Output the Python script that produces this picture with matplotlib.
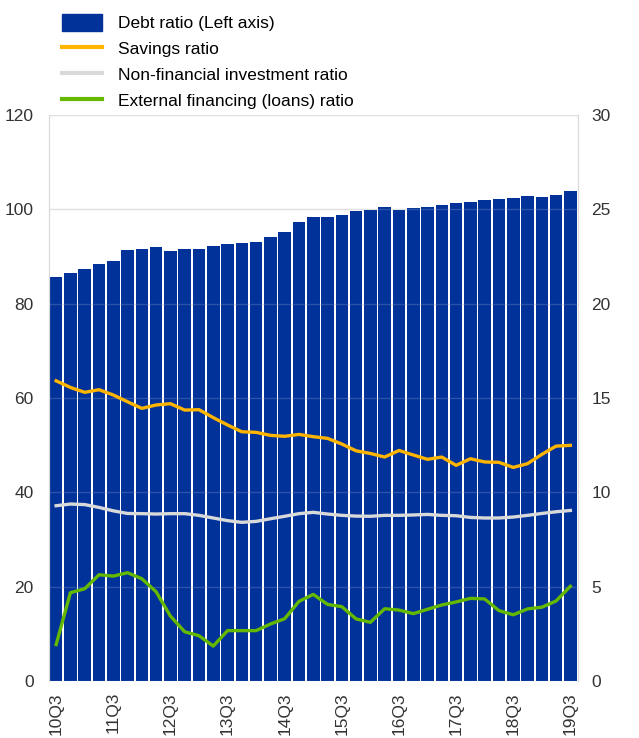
import matplotlib.pyplot as plt
import numpy as np
from matplotlib.patches import Patch
from matplotlib.lines import Line2D

plt.rcParams['font.family'] = ['Liberation Sans', 'DejaVu Sans']

# quarters 10Q3 .. 19Q3
quarters = []
for y in range(10, 20):
    for q in range(1, 5):
        if (y == 10 and q < 3) or (y == 19 and q > 3):
            continue
        quarters.append('%02dQ%d' % (y, q))

debt_ratio = [85.6, 86.6, 87.3, 88.5, 89.1, 91.4, 91.6, 92.0, 91.1, 91.5,
              91.5, 92.3, 92.6, 92.8, 93.1, 94.2, 95.2, 97.3, 98.3, 98.3,
              98.9, 99.6, 99.8, 100.4, 99.9, 100.3, 100.6, 101.0, 101.4, 101.6,
              101.9, 102.2, 102.5, 102.9, 102.7, 103.0, 103.9]
savings = [15.91, 15.56, 15.30, 15.44, 15.16, 14.80, 14.45, 14.63, 14.70, 14.36,
           14.38, 13.96, 13.57, 13.21, 13.18, 13.02, 12.97, 13.07, 12.95, 12.86,
           12.56, 12.20, 12.06, 11.87, 12.22, 11.98, 11.75, 11.87, 11.43, 11.78,
           11.61, 11.59, 11.32, 11.52, 12.01, 12.45, 12.49]
nonfin_inv = [9.29, 9.38, 9.35, 9.20, 9.02, 8.88, 8.87, 8.85, 8.87, 8.87,
              8.78, 8.64, 8.50, 8.41, 8.46, 8.60, 8.73, 8.87, 8.94, 8.85,
              8.78, 8.74, 8.73, 8.78, 8.78, 8.80, 8.83, 8.78, 8.76, 8.67,
              8.64, 8.64, 8.69, 8.78, 8.88, 8.97, 9.04]
ext_fin = [1.93, 4.68, 4.89, 5.63, 5.56, 5.74, 5.42, 4.73, 3.44, 2.61,
           2.40, 1.85, 2.67, 2.67, 2.67, 3.02, 3.30, 4.22, 4.59, 4.06,
           3.94, 3.29, 3.11, 3.83, 3.76, 3.57, 3.80, 4.03, 4.19, 4.38,
           4.35, 3.73, 3.51, 3.82, 3.91, 4.24, 5.02]

blue = '#003299'
yellow = '#FFB400'
grey = '#D9D9D9'
green = '#65B800'
x = np.arange(len(quarters))

fig = plt.figure(figsize=(6.39, 7.38), dpi=100)
ax = fig.add_axes([49 / 639, 1 - 681 / 738, 528.5 / 639, 566 / 738])
ax2 = ax.twinx()

for v in range(0, 121, 20):
    ax.axhline(v, color='#e4e4e4', lw=1, zorder=0)
    ax.axhline(v, color='#d9d9d9', lw=1, alpha=0.2, zorder=3)
ax.bar(x, debt_ratio, width=0.88, color=blue, zorder=2)
ax.set_ylim(0, 120)
ax.set_xlim(-0.5, len(quarters) - 0.5)
ax.set_yticks(range(0, 121, 20))

ax2.plot(x, savings, color=yellow, lw=2.4, solid_joinstyle='round')
ax2.plot(x, nonfin_inv, color=grey, lw=2.4, solid_joinstyle='round')
ax2.plot(x, ext_fin, color=green, lw=2.4, solid_joinstyle='round')
ax2.set_ylim(0, 30)
ax2.set_yticks(range(0, 31, 5))

ax.set_xticks(x[::4])
ax.set_xticklabels(quarters[::4], rotation=90, fontsize=12.5, color='#333333')
for a in (ax, ax2):
    a.tick_params(length=0, labelsize=12.5, colors='#333333')
    a.spines['top'].set_visible(False)
    a.spines['bottom'].set_visible(False)
    a.spines['left'].set_color('#d9d9d9')
    a.spines['right'].set_color('#d9d9d9')
ax.tick_params(axis='y', pad=11)
ax.tick_params(axis='x', pad=8)
ax2.tick_params(axis='y', pad=10)

# legend
handles = [Patch(facecolor=blue, edgecolor=blue),
           Line2D([], [], color=yellow, lw=3),
           Line2D([], [], color=grey, lw=3),
           Line2D([], [], color=green, lw=3)]
labels = ['Debt ratio (Left axis)', 'Savings ratio',
          'Non-financial investment ratio', 'External financing (loans) ratio']
fig.legend(handles, labels, loc='upper left', bbox_to_anchor=(62 / 639, 1 - 14 / 738),
           frameon=False, fontsize=12.5, handlelength=2.3, handleheight=1.15,
           handletextpad=0.95, labelspacing=0.48, borderaxespad=0, borderpad=0)

fig.savefig('out.png', dpi=100)
